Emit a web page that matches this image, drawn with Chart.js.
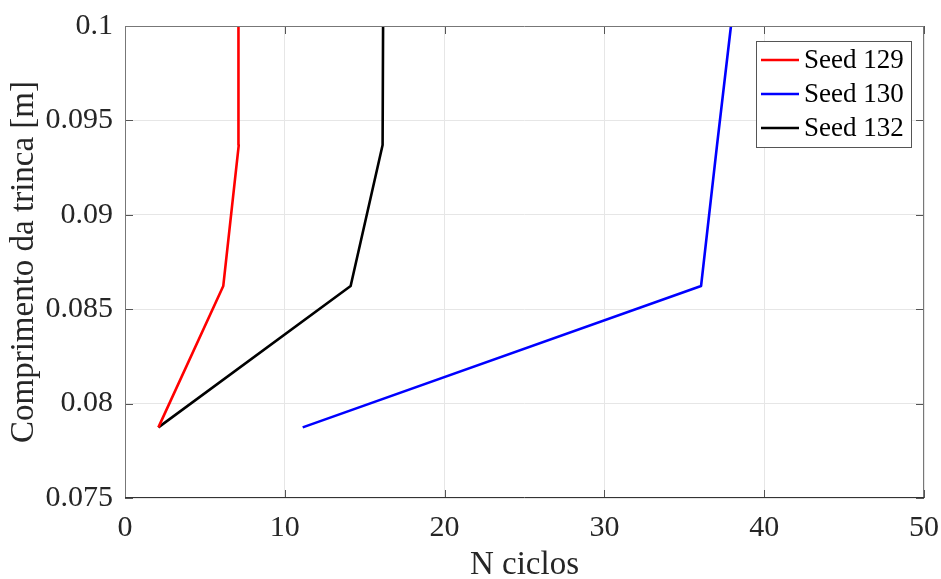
<!DOCTYPE html>
<html>
<head>
<meta charset="utf-8">
<script src="https://cdn.jsdelivr.net/npm/chart.js@4/dist/chart.umd.min.js"></script>
<style>
html,body{margin:0;padding:0;background:#fff;}
#wrap{width:941px;height:579px;position:relative;}
</style>
</head>
<body>
<div id="wrap"><canvas id="c" width="941" height="579"></canvas></div>
<script>
// Data
const seedLabels = ['Seed 129', 'Seed 130', 'Seed 132'];
const seedColors = ['#ff0000', '#0000ff', '#000000'];
const crackLength = [0.07874, 0.08623, 0.0937, 0.1];
const cycles129 = [2.09, 6.15, 7.12, 7.1];
const cycles130 = [11.12, 36.05, 37.05, 37.92];
const cycles132 = [2.09, 14.12, 16.12, 16.15];
const xTicks = [0, 10, 20, 30, 40, 50];
const yTicks = [0.075, 0.08, 0.085, 0.09, 0.095, 0.1];
const xTitle = 'N ciclos';
const yTitle = 'Comprimento da trinca [m]';

const series = [cycles129, cycles130, cycles132];
const FONT = "'Liberation Serif', 'Times New Roman', serif";

const datasets = series.map((s, i) => ({
  label: seedLabels[i],
  data: s.map((v, j) => ({x: v, y: crackLength[j]})),
  borderColor: seedColors[i],
  backgroundColor: seedColors[i],
  borderWidth: 2.6,
  borderJoinStyle: 'round',
  pointRadius: 0,
  fill: false,
  tension: 0
}));

const boxPlugin = {
  id: 'box',
  afterDatasetsDraw(chart) {
    const {ctx, chartArea: a, scales} = chart;
    ctx.save();
    // inner ticks
    ctx.strokeStyle = '#555';
    ctx.lineWidth = 1;
    const L = 8;
    scales.x.ticks.forEach(t => {
      const px = Math.round(scales.x.getPixelForValue(t.value)) + 0.5;
      ctx.beginPath();
      ctx.moveTo(px, a.bottom); ctx.lineTo(px, a.bottom - L);
      ctx.moveTo(px, a.top); ctx.lineTo(px, a.top + L);
      ctx.stroke();
    });
    scales.y.ticks.forEach(t => {
      const py = Math.round(scales.y.getPixelForValue(t.value)) + 0.5;
      ctx.beginPath();
      ctx.moveTo(a.left, py); ctx.lineTo(a.left + L, py);
      ctx.moveTo(a.right, py); ctx.lineTo(a.right - L, py);
      ctx.stroke();
    });
    // box
    ctx.strokeStyle = '#777';
    ctx.lineWidth = 1;
    ctx.beginPath();
    ctx.moveTo(a.left, a.top + 0.5); ctx.lineTo(a.right, a.top + 0.5);
    ctx.moveTo(a.right - 0.5, a.top); ctx.lineTo(a.right - 0.5, a.bottom);
    ctx.moveTo(a.left + 0.5, a.top); ctx.lineTo(a.left + 0.5, a.bottom);
    ctx.stroke();
    ctx.strokeStyle = '#333';
    ctx.beginPath();
    ctx.moveTo(a.left, a.bottom - 0.5); ctx.lineTo(a.right, a.bottom - 0.5);
    ctx.stroke();

    // legend inside, top-right
    const lx = 756, ly = 41, lw = 155, lh = 106;
    ctx.fillStyle = '#fff';
    ctx.fillRect(lx, ly, lw, lh);
    ctx.strokeStyle = '#555';
    ctx.strokeRect(lx + 0.5, ly + 0.5, lw, lh);
    ctx.font = '27px ' + FONT;
    ctx.textBaseline = 'middle';
    ctx.textAlign = 'left';
    chart.data.datasets.forEach((d, i) => {
      const cy = ly + 19 + i * 34;
      ctx.strokeStyle = d.borderColor;
      ctx.lineWidth = 2.6;
      ctx.beginPath();
      ctx.moveTo(lx + 5, cy); ctx.lineTo(lx + 43, cy);
      ctx.stroke();
      ctx.fillStyle = '#000';
      ctx.fillText(d.label, lx + 48, cy + 1);
    });
    ctx.restore();
  }
};

new Chart(document.getElementById('c'), {
  type: 'line',
  data: {datasets},
  plugins: [boxPlugin],
  options: {
    responsive: false,
    animation: false,
    devicePixelRatio: 1,
    layout: {padding: {top: 26, right: 17, left: 0, bottom: 0}},
    plugins: {legend: {display: false}, tooltip: {enabled: false}},
    scales: {
      x: {
        type: 'linear',
        min: 0, max: 50,
        afterFit(s) { s.height = 81; s.paddingLeft = 0; s.paddingRight = 0; },
        afterBuildTicks(s) { s.ticks = xTicks.map(v => ({value: v})); },
        ticks: {
          color: '#262626',
          font: {family: FONT, size: 30},
          padding: 12,
          maxRotation: 0,
          autoSkip: false,
          callback: v => String(v)
        },
        grid: {color: '#e6e6e6', drawTicks: false, lineWidth: 1},
        border: {display: false},
        title: {display: true, text: xTitle, color: '#262626',
                font: {family: FONT, size: 33, lineHeight: 0.8}, padding: {top: 0, bottom: 0}}
      },
      y: {
        type: 'linear',
        min: 0.075, max: 0.1,
        afterFit(s) { s.width = 125; s.paddingTop = 0; s.paddingBottom = 0; },
        afterBuildTicks(s) { s.ticks = yTicks.map(v => ({value: v})); },
        ticks: {
          color: '#262626',
          font: {family: FONT, size: 30},
          padding: 12,
          autoSkip: false,
          callback: v => String(parseFloat(v.toFixed(3)))
        },
        grid: {color: '#e6e6e6', drawTicks: false, lineWidth: 1},
        border: {display: false},
        title: {display: true, text: yTitle, color: '#262626',
                font: {family: FONT, size: 33, lineHeight: 0.9}, padding: {top: 9, bottom: 0}}
      }
    }
  }
});
</script>
</body>
</html>
